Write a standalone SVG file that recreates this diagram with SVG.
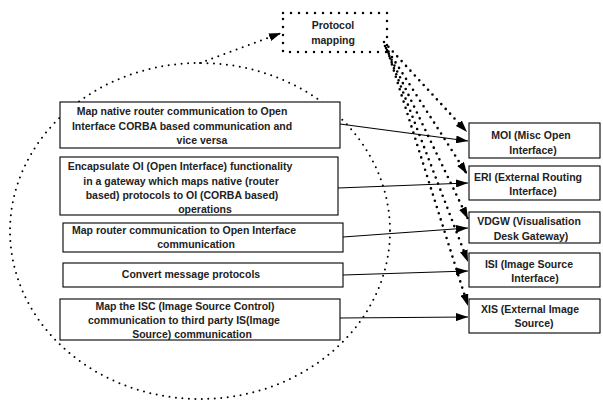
<svg xmlns="http://www.w3.org/2000/svg" width="603" height="404" viewBox="0 0 603 404">
<style>
text{font-family:"Liberation Sans",Arial,sans-serif;font-weight:bold;font-size:10.5px;fill:#222;text-anchor:middle}
.box{fill:#fff;stroke:#000;stroke-width:1.1}
.solid{fill:none;stroke:#000;stroke-width:1.1}
.fat{fill:none;stroke:#000;stroke-width:2.6;stroke-linecap:round;stroke-dasharray:0 6.5}
.thin{fill:none;stroke:#000;stroke-width:2;stroke-linecap:round;stroke-dasharray:0 6.5}
</style>
<defs>
<marker id="ah" viewBox="0 0 12 8" refX="12" refY="4" markerWidth="12" markerHeight="8" markerUnits="userSpaceOnUse" orient="auto">
<path d="M0,0 L12,4 L0,8 z" fill="#000"/>
</marker>
</defs>
<rect width="603" height="404" fill="#fff"/>
<g id="scope">
<ellipse cx="200" cy="231" rx="190" ry="168" class="thin"/>
</g>
<g id="protocol-mapping">
<rect x="283" y="13" width="104" height="39" fill="#fff" stroke="#000" stroke-width="2.4" stroke-linecap="round" stroke-dasharray="0 8"/>
<text x="333" y="29">Protocol</text>
<text x="333" y="44">mapping</text>
</g>
<g id="f1">
<rect class="box" x="60" y="102" width="280" height="46"/>
<text x="182" y="115">Map native router communication to Open</text>
<text x="182" y="130">Interface CORBA based communication and</text>
<text x="202" y="144">vice versa</text>
</g>
<g id="f2">
<rect class="box" x="60" y="157" width="278" height="58"/>
<text x="180" y="170">Encapsulate OI (Open Interface) functionality</text>
<text x="181" y="185">in a gateway which maps native (router</text>
<text x="182" y="199">based) protocols to OI (CORBA based)</text>
<text x="205" y="213">operations</text>
</g>
<g id="f3">
<rect class="box" x="63" y="223" width="280" height="29"/>
<text x="184" y="234">Map router communication to Open Interface</text>
<text x="196" y="248">communication</text>
</g>
<g id="f4">
<rect class="box" x="63" y="263" width="280" height="24"/>
<text x="191" y="278">Convert message protocols</text>
</g>
<g id="f5">
<rect class="box" x="60" y="299" width="280" height="41"/>
<text x="185" y="310">Map the ISC (Image Source Control)</text>
<text x="184" y="324">communication to third party IS(Image</text>
<text x="192" y="338">Source) communication</text>
</g>
<g id="moi">
<rect class="box" x="469" y="123" width="131" height="35"/>
<text x="531" y="139">MOI (Misc Open</text>
<text x="533" y="154">Interface)</text>
</g>
<g id="eri">
<rect class="box" x="469" y="166" width="131" height="34"/>
<text x="528" y="181">ERI (External Routing</text>
<text x="533" y="195">Interface)</text>
</g>
<g id="vdgw">
<rect class="box" x="469" y="212" width="131" height="31"/>
<text x="529" y="225">VDGW (Visualisation</text>
<text x="531" y="240">Desk Gateway)</text>
</g>
<g id="isi">
<rect class="box" x="469" y="253" width="131" height="34"/>
<text x="529" y="268">ISI (Image Source</text>
<text x="535" y="282">Interface)</text>
</g>
<g id="xis">
<rect class="box" x="469" y="299" width="131" height="34"/>
<text x="530" y="313">XIS (External Image</text>
<text x="534" y="327">Source)</text>
</g>
<g id="connectors">
<path class="thin" d="M200,63 L281,33" marker-end="url(#ah)"/>
<path class="fat" d="M384,42 L467,132" marker-end="url(#ah)"/>
<path class="fat" d="M385,46 L467,174" marker-end="url(#ah)"/>
<path class="fat" d="M386,48 L468,219" marker-end="url(#ah)"/>
<path class="fat" d="M387,50 L468,262" marker-end="url(#ah)"/>
<path class="fat" d="M388,52 L468,306" marker-end="url(#ah)"/>
<path class="solid" d="M340,124 L468,141" marker-end="url(#ah)"/>
<path class="solid" d="M338,188 L468,183" marker-end="url(#ah)"/>
<path class="solid" d="M343,237 L468,228" marker-end="url(#ah)"/>
<path class="solid" d="M343,275 L468,271" marker-end="url(#ah)"/>
<path class="solid" d="M340,318 L468,317" marker-end="url(#ah)"/>
</g>
</svg>
